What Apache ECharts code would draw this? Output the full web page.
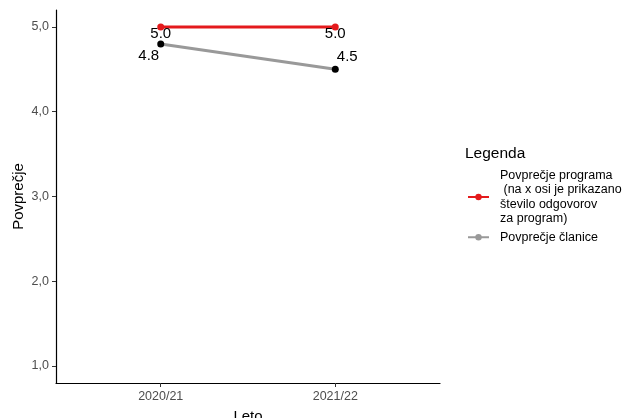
<!DOCTYPE html>
<html><head><meta charset="utf-8">
<script src="https://cdn.jsdelivr.net/npm/echarts@6/dist/echarts.min.js"></script>
<style>html,body{margin:0;padding:0;background:#fff}#c{width:627px;height:418px}</style>
</head><body><div id="c"></div>
<script>
const categories = ['2020/21', '2021/22'];
const programValues = [5.0, 5.0];
const memberValues = [4.8, 4.5];
const yTicks = [1, 2, 3, 4, 5];
const seriesNames = ['Povprečje programa\n (na x osi je prikazano\nštevilo odgovorov\nza program)', 'Povprečje članice'];

const chart = echarts.init(document.getElementById('c'), null, {renderer: 'canvas'});
const xPos = categories.map((c, i) => i + 1);
const font = 'Arial, "Liberation Sans", sans-serif';
const memberOffsets = [[-12, 12], [12, -12]];
chart.setOption({
  animation: false,
  textStyle: {fontFamily: font},
  grid: {left: 56, right: 187, top: 10, bottom: 35, containLabel: false, outerBoundsMode: 'none'},
  xAxis: {
    type: 'value', min: 0.4, max: 2.6,
    name: 'Leto', nameLocation: 'middle', nameGap: 26, nameMoveOverlap: false,
    nameTextStyle: {fontSize: 15, color: '#000', fontFamily: font, verticalAlign: 'top'},
    axisLine: {show: true, onZero: false, lineStyle: {color: '#000', width: 1.2}},
    axisTick: {show: true, length: 4, lineStyle: {color: '#333'}, customValues: xPos},
    axisLabel: {color: '#4d4d4d', fontSize: 12.5, margin: 7, customValues: xPos,
      formatter: v => categories[Math.round(v) - 1] || ''},
    splitLine: {show: false}
  },
  yAxis: {
    type: 'value', min: 0.8, max: 5.2,
    name: 'Povprečje', nameLocation: 'middle', nameGap: 30, nameMoveOverlap: false,
    nameTextStyle: {fontSize: 15, color: '#000', fontFamily: font},
    axisLine: {show: true, onZero: false, lineStyle: {color: '#000', width: 1.2}},
    axisTick: {show: true, length: 4, lineStyle: {color: '#333'}, customValues: yTicks},
    axisLabel: {color: '#4d4d4d', fontSize: 12.5, margin: 7, customValues: yTicks,
      formatter: v => v.toFixed(1).replace('.', ',')},
    splitLine: {show: false}
  },
  title: {
    text: 'Legenda', left: 465, top: 146, padding: 0,
    textStyle: {fontSize: 15.5, fontWeight: 'normal', color: '#000', fontFamily: font}
  },
  legend: {
    orient: 'vertical', left: 467, top: 168, padding: 0, itemWidth: 21, itemHeight: 8, itemGap: 4,
    textStyle: {fontSize: 12.5, color: '#000', lineHeight: 14.5, fontFamily: font, padding: [0, 0, 0, 6]},
    data: [
      {name: seriesNames[0], itemStyle: {color: '#e41a1c'}},
      {name: seriesNames[1], itemStyle: {color: '#999999'}}
    ]
  },
  series: [
    {
      name: seriesNames[1], type: 'line', z: 2,
      data: memberValues.map((v, i) => ({value: [xPos[i], v],
        label: {offset: memberOffsets[i]}})),
      lineStyle: {color: '#999999', width: 3},
      itemStyle: {color: '#000'}, symbol: 'circle', symbolSize: 7,
      label: {show: true, position: 'inside', fontSize: 15, color: '#000', fontFamily: font,
        formatter: p => p.value[1].toFixed(1)}
    },
    {
      name: seriesNames[0], type: 'line', z: 3,
      data: programValues.map((v, i) => [xPos[i], v]),
      lineStyle: {color: '#e41a1c', width: 3},
      itemStyle: {color: '#e41a1c'}, symbol: 'circle', symbolSize: 7,
      label: {show: true, position: 'inside', offset: [0, 7], fontSize: 15, color: '#000', fontFamily: font,
        formatter: p => p.value[1].toFixed(1)}
    }
  ]
});
</script></body></html>
